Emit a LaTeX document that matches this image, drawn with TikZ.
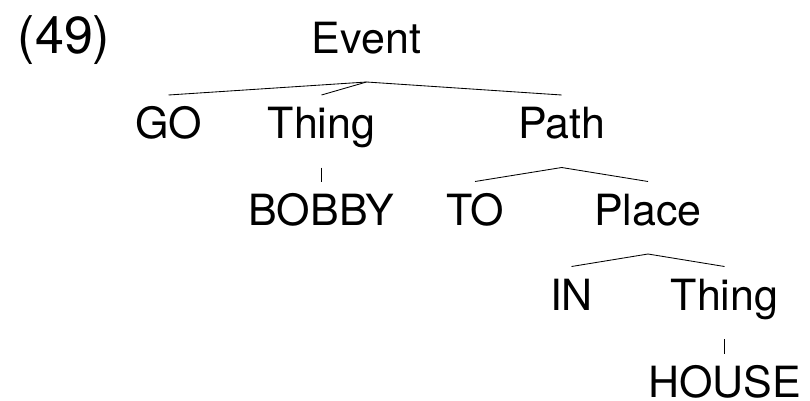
\documentclass[tikz,border=0pt]{standalone}
\usepackage{fontspec}
\setmainfont{TeX Gyre Heros}
\begin{document}
\begin{tikzpicture}[x=1pt,y=-1pt,
  lab/.style={font=\fontsize{43}{50}\selectfont, inner sep=0pt, outer sep=0pt,
    text height=43.5pt, text depth=29pt, anchor=base},
  leaflab/.style={lab, text depth=0pt},
  numlab/.style={font=\fontsize{52}{60}\selectfont, inner sep=0pt, anchor=base},
  branch/.style={draw=black, line width=0.85pt}]
\useasboundingbox (0,0) rectangle (810,400);
\node[numlab] (num) at (64,53) {(49)};
\node[lab] (ev) at (366.5,53) {Event};
\node[lab] (go) at (168.5,138.5) {GO};
\node[lab] (th1) at (321.5,138.5) {Thing};
\node[lab] (pa) at (561.7,138.5) {Path};
\node[lab] (bo) at (321.5,225) {BOBBY};
\node[lab] (to) at (475,225) {TO};
\node[lab] (pl) at (648,225) {Place};
\node[lab] (in) at (571.5,310) {IN};
\node[lab] (th2) at (724.5,310) {Thing};
\node[leaflab] (ho) at (724.5,397) {HOUSE};
\draw[branch] (go.north) -- (ev.south) -- (pa.north);
\draw[branch] (th1.north) -- (ev.south);
\draw[branch] (th1.south) -- (bo.north);
\draw[branch] (to.north) -- (pa.south) -- (pl.north);
\draw[branch] (in.north) -- (pl.south) -- (th2.north);
\draw[branch] (th2.south) -- (ho.north);
\end{tikzpicture}
\end{document}
